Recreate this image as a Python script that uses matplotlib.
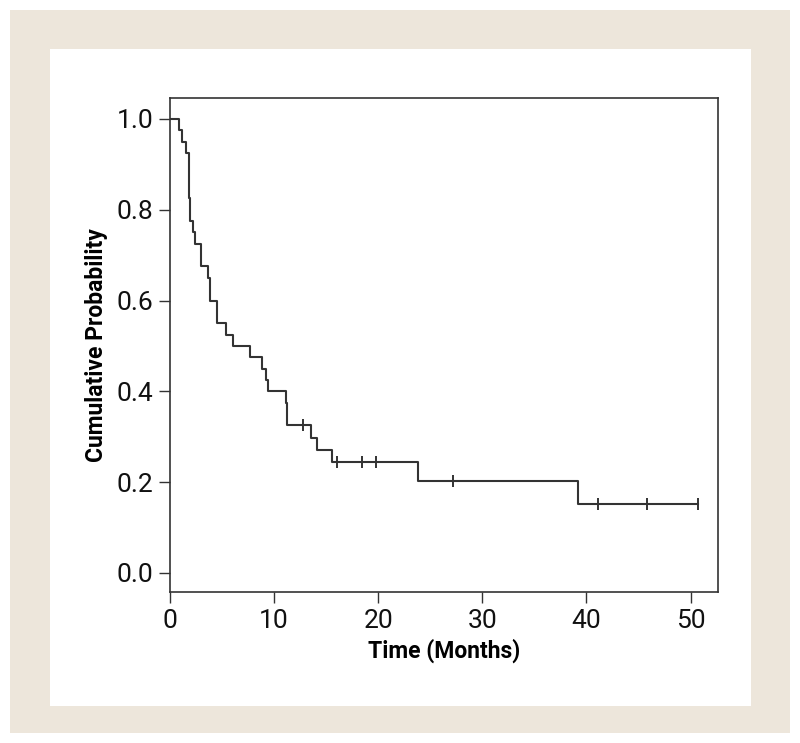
import numpy as np
import matplotlib.pyplot as plt
from matplotlib.patches import Rectangle

# Follow-up times (months) and status: 1 = event, 0 = censored
times = [0.9, 1.15, 1.54, 1.79, 1.79, 1.85, 1.85, 1.95, 1.95, 2.24,
         2.43, 3.0, 3.0, 3.65, 3.84, 3.84, 4.55, 4.55, 5.38, 6.02,
         7.7, 8.8, 9.19, 9.45, 11.15, 11.2, 11.2, 12.8, 13.5, 14.1,
         15.56, 16.0, 18.4, 19.76, 23.85, 27.2, 39.2, 41.1, 45.8, 50.7]
status = [1, 1, 1, 1, 1, 1, 1, 1, 1, 1,
          1, 1, 1, 1, 1, 1, 1, 1, 1, 1,
          1, 1, 1, 1, 1, 1, 1, 0, 1, 1,
          1, 0, 0, 0, 1, 0, 1, 0, 0, 0]

xticks = [0, 10, 20, 30, 40, 50]
yticks = [0.0, 0.2, 0.4, 0.6, 0.8, 1.0]

plt.rcParams['font.family'] = ['Roboto', 'DejaVu Sans']


def kaplan_meier(t, e):
    t = np.asarray(t, float)
    e = np.asarray(e, int)
    order = np.argsort(t, kind='stable')
    t, e = t[order], e[order]
    surv = 1.0
    xs, ys = [0.0], [1.0]
    cens_x, cens_y = [], []
    for u in np.unique(t):
        at_risk = np.sum(t >= u)
        d = np.sum((t == u) & (e == 1))
        c = np.sum((t == u) & (e == 0))
        if d > 0:
            surv *= 1 - d / at_risk
            xs.append(u)
            ys.append(surv)
        if c > 0:
            cens_x.append(u)
            cens_y.append(surv)
    xs.append(t.max())
    ys.append(surv)
    return xs, ys, cens_x, cens_y


xs, ys, cx, cy = kaplan_meier(times, status)

W, H = 800, 743
fig = plt.figure(figsize=(W / 100, H / 100), dpi=100)
fig.patch.set_facecolor('white')

# beige frame with white panel (behind the axes)
fig.patches.append(Rectangle((10 / W, 1 - 733 / H), 780 / W, 723.5 / H,
                             transform=fig.transFigure, facecolor='#ede6db',
                             edgecolor='none', zorder=-20))
fig.patches.append(Rectangle((50 / W, 1 - 706 / H), 701 / W, 657 / H,
                             transform=fig.transFigure, facecolor='white',
                             edgecolor='none', zorder=-10))

ax = fig.add_axes([170 / W, 1 - 592 / H, 548 / W, 494 / H])
ax.patch.set_alpha(0)
line_col = '#333333'
ax.step(xs, ys, where='post', color=line_col, lw=1.5)
ax.plot(cx, cy, ls='none', marker='|', ms=9, mew=1.4, color=line_col)

ax.set_xlim(0, 52.64)
ax.set_ylim(-0.042, 1.046)
ax.set_xticks(xticks)
ax.set_yticks(yticks)
ax.set_xticklabels([str(v) for v in xticks])
ax.set_yticklabels([f'{v:.1f}' for v in yticks])
ax.tick_params(direction='out', length=8, width=1, colors=line_col,
               labelcolor='#111111', labelsize=19, pad=4)
for s in ax.spines.values():
    s.set_color(line_col)
    s.set_linewidth(1.2)

ax.set_xlabel('Time (Months)', fontsize=16.5, fontweight='bold', labelpad=4)
ax.set_ylabel('Cumulative Probability', fontsize=16.5, fontweight='bold', labelpad=6)

fig.savefig('out.png', dpi=100)
